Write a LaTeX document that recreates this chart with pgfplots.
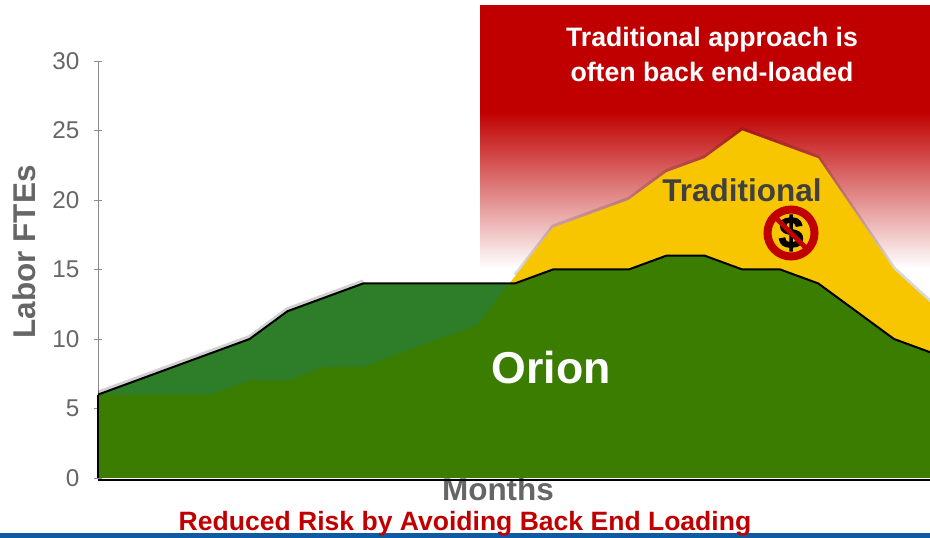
\documentclass[border=0pt]{standalone}
\usepackage{fontspec}
\setmainfont{Liberation Sans}
\newfontfamily\heavyfont[FakeBold=2.5]{Liberation Sans Bold}
\usepackage{pgfplots}
\usepackage{pgfplotstable}
\pgfplotsset{compat=1.18}
\definecolor{chartred}{HTML}{C00000}
\definecolor{darkgreen}{HTML}{2E7D28}
\definecolor{mygreen}{HTML}{3A7D00}
\definecolor{myyellow}{HTML}{F8C600}
\definecolor{txtgray}{HTML}{666666}
\definecolor{trdgray}{HTML}{404040}
\definecolor{stripblue}{HTML}{0F5AA5}
\pgfplotstableread{
m trad
0 6
1 6
2 6
3 6
4 7
5 7
6 8
7 8
8 9
9 10
10 11
11 14.5
12 18
13 19
14 20
15 22
16 23
17 25
18 24
19 23
20 19
21 15
22 12.5
}\traditional
\pgfplotstableread{
m orion
0 6
1 7
2 8
3 9
4 10
5 12
6 13
7 14
8 14
9 14
10 14
11 14
12 15
13 15
14 15
15 16
16 16
17 15
18 15
19 14
20 12
21 10
22 9
}\orion
\pgfplotstableread{
m low
0 6
1 6
2 6
3 6
4 7
5 7
6 8
7 8
8 9
9 10
10 11
10.85 14
11 14
12 15
13 15
14 15
15 16
16 16
17 15
18 15
19 14
20 12
21 10
22 9
}\overlap
\begin{document}
\begin{tikzpicture}[x=0.75pt,y=0.75pt]
\clip (0,0) rectangle (930,538);
% red banner fading to white
\fill[chartred] (480,425) rectangle (930,533);
\shade[top color=chartred,bottom color=white] (480,270) rectangle (930,426);
% axis title that the baseline overlaps
\node[font=\fontsize{23.6}{28}\selectfont\bfseries,text=txtgray,inner sep=0pt] at (498,49) {Months};
\begin{axis}[
  at={(73.5pt,45pt)},anchor=south west,
  scale only axis,width=624pt,height=312.75pt,
  xmin=0,xmax=21.95,ymin=0,ymax=30,
  axis y line=left,axis x line=bottom,
  axis line style={-,color=gray!90},
  x axis line style={draw=none},
  xtick=\empty,
  ytick={0,5,10,15,20,25,30},
  tick style={color=gray!90},
  major tick length=6pt,
  yticklabel style={font=\fontsize{18.2}{22}\selectfont,text=txtgray,xshift=-7.5pt},
  /pgf/number format/assume math mode=true,
  clip=false,
]
% soft shadows
\addplot[draw=black,opacity=.15,line width=2.4pt,yshift=1.2pt,restrict x to domain=11:22] table[x=m,y=trad]{\traditional};
\addplot[draw=black,opacity=.18,line width=3pt,yshift=1.5pt,restrict x to domain=0:7] table[x=m,y=orion]{\orion};
\addplot[fill=myyellow,draw=none] table[x=m,y=trad]{\traditional} \closedcycle;
\addplot[fill=darkgreen,draw=none] table[x=m,y=orion]{\orion} \closedcycle;
\addplot[fill=mygreen,draw=none] table[x=m,y=low]{\overlap} \closedcycle;
% outline of the Orion area
\addplot[draw=black,line width=1.5pt] table[x=m,y=orion]{\orion};
\addplot[draw=black,line width=1.2pt] coordinates {(0,0) (0,6)};
\addplot[draw=black,line width=1.5pt,yshift=-1.2pt] coordinates {(0,0) (21.95,0)};
\end{axis}
% side label, texts
\node[rotate=90,font=\fontsize{23.6}{28}\selectfont\bfseries,text=txtgray,inner sep=0pt] at (24,286) {Labor FTEs};
\node[font=\fontsize{20}{24}\selectfont\bfseries,text=white,inner sep=0pt] at (712,498) {Traditional approach is};
\node[font=\fontsize{20}{24}\selectfont\bfseries,text=white,inner sep=0pt] at (712,466) {often back end-loaded};
\node[font=\fontsize{23.6}{28}\selectfont\bfseries,text=trdgray,inner sep=0pt] at (742,348) {Traditional};
\node[font=\fontsize{33.5}{40}\selectfont\bfseries,text=white,inner sep=0pt] at (551,170) {Orion};
% crossed-out dollar sign
\node[font=\heavyfont\fontsize{33}{38}\selectfont,text=black,inner sep=0pt] at (791,305) {\$};
\draw[color=chartred,line width=6pt] (791,305) circle (23.5);
\draw[color=chartred,line width=3.5pt] (774,322) -- (808,288);
% bottom caption and strip
\fill[stripblue] (0,0) rectangle (930,5);
\node[font=\fontsize{19.9}{24}\selectfont\bfseries,text=chartred,inner sep=0pt] at (465,14) {Reduced Risk by Avoiding Back End Loading};
\end{tikzpicture}
\end{document}
